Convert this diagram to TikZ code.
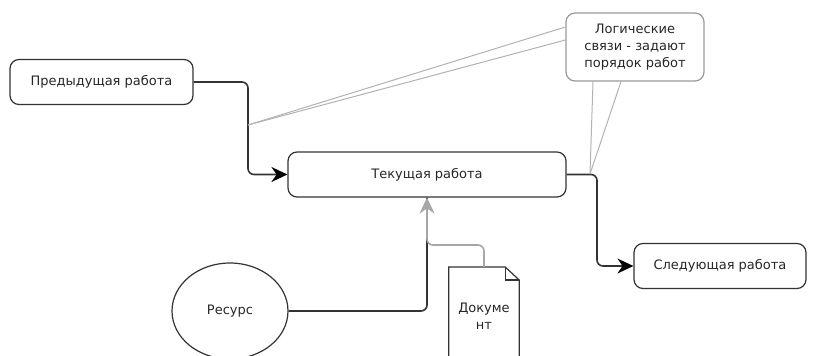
\documentclass[tikz,border=0pt]{standalone}
\usepackage{fontspec}
\setmainfont{DejaVu Sans}
\usetikzlibrary{shapes.geometric,arrows.meta,positioning}

\begin{document}
\begin{tikzpicture}[
    x=1pt, y=-1pt,
    every node/.style={font=\fontsize{13}{17}\selectfont, text=black!85},
    work/.style={draw=black!80, rectangle, rounded corners=9pt, line width=1.2pt,
                 minimum height=45pt, align=center},
    note/.style={draw=black!40, rectangle, rounded corners=9pt, line width=1.2pt,
                 minimum width=138pt, minimum height=68pt, align=center},
    res/.style={draw=black!80, ellipse, line width=1.2pt,
                minimum width=116pt, minimum height=96pt},
    flow/.style={-{Stealth[length=16pt,width=15pt,color=black]}, draw=black!80,
                 line width=1.6pt, rounded corners=6pt},
    docflow/.style={-{Stealth[length=16pt,width=15pt]}, draw=black!35,
                    line width=1.6pt, rounded corners=6pt},
    hint/.style={draw=black!30, line width=1pt},
]
\useasboundingbox (0,0) rectangle (814,356);
\clip (0,0) rectangle (814,356);

%% Works
\node[work, minimum width=183pt] (prev) at (101.5,82)  {Предыдущая работа};
\node[work, minimum width=278pt] (cur)  at (427,174.5) {Текущая работа};
\node[work, minimum width=172pt] (next) at (720,266)   {Следующая работа};

%% Comment
\node[note] (logic) at (635,47) {Логические\\связи - задают\\порядок работ};

%% Resource and document
\node[res] (res) at (230,311) {Ресурс};
\node[anchor=north, minimum width=70pt, minimum height=98pt, align=center,
      inner sep=0pt] (doc) at (484,267) {Докуме\\нт};
\draw[black!80, line width=1.2pt]
    (doc.north west) -- ([xshift=-14pt]doc.north east)
    -- ([yshift=-13pt]doc.north east) -- ([yshift=-200pt]doc.north east)
    -- ([yshift=-200pt]doc.north west) -- cycle;
\draw[black!80, line width=1.2pt]
    ([xshift=-14pt]doc.north east) -- ([xshift=-14pt,yshift=-13pt]doc.north east)
    -- ([yshift=-13pt]doc.north east);

%% Joints
\coordinate (jprev) at (248,125);
\coordinate (jnext) at (597,220);
\coordinate (jhint) at (590,174);
\coordinate (jdoc)  at (427,245);

%% Order connectors
\draw[flow] (prev.east) -| (jprev) |- (cur.west);
\draw[flow] (cur.east) -| (jnext) |- (next.west);

%% Resource and document to the current work
\draw[flow, -] (res.east) -| (cur.south);
\draw[docflow] (doc.north) |- (jdoc) -- (cur.south);

%% Comment leaders
\draw[hint] ([yshift=20pt]logic.west) -- (jprev);
\draw[hint] ([yshift=7pt]logic.west) -- (jprev);
\draw[hint] ([xshift=-42pt]logic.south) -- (jhint);
\draw[hint] ([xshift=-14pt]logic.south) -- (jhint);

\end{tikzpicture}
\end{document}
